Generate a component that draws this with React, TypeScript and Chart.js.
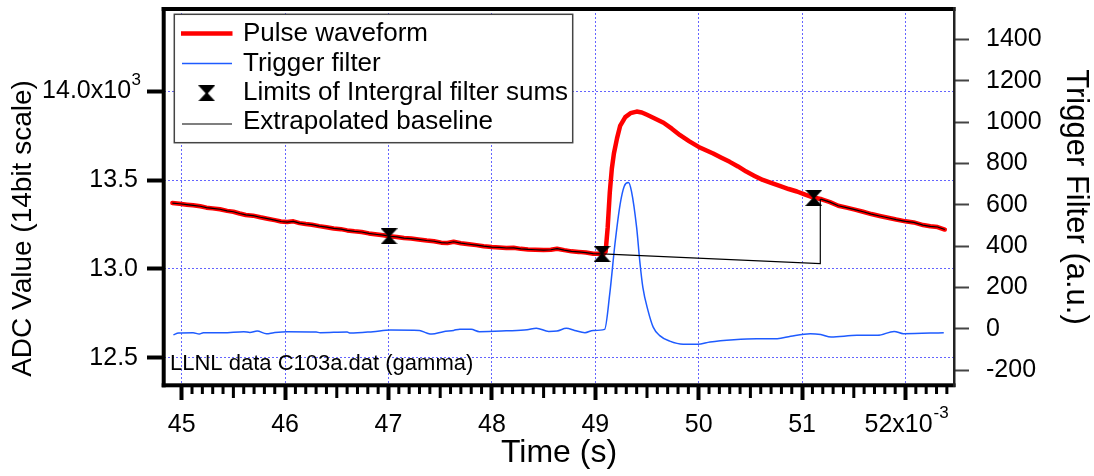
import React, { useEffect, useRef } from "react";
import { Chart, registerables } from "chart.js";

Chart.register(...registerables);

const FONT = "'Liberation Sans', Arial, Helvetica, sans-serif";

// ---------- axis ticks ----------
const X_TICKS = [45, 46, 47, 48, 49, 50, 51, 52];
const X_TICK_LABELS = ["45", "46", "47", "48", "49", "50", "51", "52x10  "];
const ADC_TICKS = [12500, 13000, 13500, 14000];
const ADC_TICK_LABELS = ["12.5", "13.0", "13.5", "14.0x10 "];
const TRIG_TICKS = [-200, 0, 200, 400, 600, 800, 1000, 1200, 1400];
// exponent superscripts attached to a tick label
const SUPERSCRIPTS = [
  { axis: "y", value: 14000, base: "14.0x10", text: "3" },
  { axis: "x", value: 52, base: "52x10", text: "-3" },
];

// ---------- texts ----------
const SERIES_NAMES = [
  "Pulse waveform",
  "Trigger filter",
  "Limits of Intergral filter sums",
  "Extrapolated baseline",
];
const X_TITLE = "Time (s)";
const LEFT_TITLE = "ADC Value (14bit scale)";
const RIGHT_TITLE = "Trigger Filter (a.u.)";
const NOTE = "LLNL data C103a.dat (gamma)";

// ---------- data (time in ms, ADC counts) ----------
const PULSE_T = [
  44.91, 44.98, 45.05, 45.11, 45.18, 45.24, 45.3, 45.37, 45.44, 45.5, 45.56, 45.62, 45.69, 45.76,
  45.83, 45.9, 45.96, 46.02, 46.08, 46.14, 46.2, 46.26, 46.33, 46.4, 46.47, 46.54, 46.6, 46.67,
  46.74, 46.81, 46.89, 46.95, 47.01, 47.08, 47.15, 47.22, 47.29, 47.37, 47.44, 47.51, 47.57, 47.63,
  47.7, 47.78, 47.85, 47.92, 48.0, 48.07, 48.14, 48.21, 48.28, 48.35, 48.42, 48.5, 48.57, 48.63,
  48.7, 48.77, 48.84, 48.91, 48.98, 49.04, 49.08,
  49.1, 49.12, 49.14, 49.16, 49.18, 49.21, 49.24, 49.29, 49.34, 49.4, 49.45, 49.5, 49.58, 49.66,
  49.74, 49.82, 49.91, 50.0, 50.07, 50.14, 50.22, 50.3, 50.38, 50.46, 50.54, 50.62, 50.7, 50.79,
  50.87, 50.95, 51.03, 51.11, 51.19, 51.27, 51.35, 51.43, 51.51, 51.59, 51.67, 51.75, 51.83, 51.91,
  52.0, 52.08, 52.17, 52.24, 52.31, 52.38,
];
const PULSE_V = [
  13371, 13367, 13362, 13358, 13353, 13345, 13341, 13336, 13327, 13322, 13312, 13304, 13300, 13291,
  13283, 13275, 13267, 13264, 13268, 13258, 13253, 13249, 13241, 13235, 13228, 13224, 13217, 13212,
  13208, 13200, 13194, 13190, 13184, 13180, 13174, 13171, 13166, 13160, 13156, 13148, 13146, 13153,
  13145, 13139, 13134, 13128, 13123, 13121, 13118, 13119, 13113, 13110, 13108, 13106, 13108, 13114,
  13106, 13099, 13096, 13092, 13086, 13085, 13083,
  13098, 13235, 13430, 13565, 13650, 13735, 13805, 13855, 13877, 13886, 13881, 13868, 13846, 13823,
  13790, 13753, 13718, 13687, 13668, 13650, 13626, 13603, 13577, 13548, 13524, 13501, 13484, 13466,
  13450, 13436, 13418, 13402, 13392, 13376, 13356, 13345, 13334, 13322, 13309, 13298, 13288, 13278,
  13268, 13262, 13247, 13240, 13236, 13222,
];

const TRIG_T = [
  44.92, 44.97, 45.11, 45.17, 45.21, 45.4, 45.6, 45.66, 45.73, 45.82, 45.89, 46.02, 46.3, 46.34,
  46.6, 46.63, 46.85, 47.02, 47.3, 47.37, 47.42, 47.53, 47.63, 47.69, 47.8, 47.88, 48.14, 48.34,
  48.43, 48.55, 48.63, 48.72, 48.8, 48.9, 48.98, 49.09, 49.14, 49.19, 49.24, 49.28, 49.32, 49.35,
  49.4, 49.43, 49.46, 49.51, 49.56, 49.62, 49.72, 49.85, 49.99, 50.11, 50.34, 50.56, 50.76, 50.89,
  51.08, 51.18, 51.28, 51.53, 51.73, 51.89, 51.98, 52.37,
];
const TRIG_V = [
  -29, -21, -19, -26, -19, -19, -14, -18, -11, -24, -19, -14, -16, -19,
  -16, -21, -14, -6, -8, -21, -26, -14, -8, -2, -3, -14, -10, -5,
  3, -13, -11, 2, -8, -19, -8, -3, 170, 410, 602, 690, 708, 665,
  489, 328, 200, 88, 8, -32, -60, -75, -75, -64, -53, -48, -48, -36,
  -24, -28, -40, -32, -32, -13, -24, -19,
];

const LIMIT_T = [47.005, 49.065, 51.113];
const LIMIT_V = [13184, 13085, 13400];

const EXTRAP_T = [49.065, 51.176, 51.176];
const EXTRAP_V = [13085, 13030, 13391];

// ---------- styles ----------
const RED = "#ff0000";
const BLUE = "#1e5bff";
const GRID = "#6464ff";

function makeMarker(): HTMLCanvasElement {
  const c = document.createElement("canvas");
  c.width = 17;
  c.height = 16;
  const m = c.getContext("2d")!;
  m.fillStyle = "#000";
  m.beginPath();
  m.moveTo(0, 0);
  m.lineTo(17, 0);
  m.lineTo(9.6, 8);
  m.lineTo(17, 16);
  m.lineTo(0, 16);
  m.lineTo(7.4, 8);
  m.closePath();
  m.fill();
  return c;
}

export default function App() {
  const ref = useRef<HTMLCanvasElement>(null);

  useEffect(() => {
    const canvas = ref.current;
    if (!canvas) return;
    const marker = makeMarker();

    const pulse = PULSE_T.map((t, i) => ({ x: t, y: PULSE_V[i] }));
    const trig = TRIG_T.map((t, i) => ({ x: t, y: TRIG_V[i] }));
    const limits = LIMIT_T.map((t, i) => ({ x: t, y: LIMIT_V[i] }));
    const extrap = EXTRAP_T.map((t, i) => ({ x: t, y: EXTRAP_V[i] }));
    const baseline = [
      ...pulse.filter((p) => p.x < EXTRAP_T[0]),
      ...extrap,
      ...pulse.filter((p) => p.x > EXTRAP_T[EXTRAP_T.length - 1]),
    ];

    const overlay = {
      id: "overlay",
      afterDraw(chart: any) {
        const { ctx, chartArea: a, scales } = chart;
        const xs = scales.x;
        ctx.save();
        // minor x ticks
        ctx.fillStyle = "#000";
        for (let k = 451; k <= 524; k++) {
          if (k % 10 === 0) continue;
          const px = xs.getPixelForValue(k / 10);
          const len = k % 10 === 5 ? 13 : 9;
          ctx.fillRect(px - 1.5, a.bottom, 3, len);
        }
        // frame
        ctx.fillRect(a.left - 2.3, a.top - 2, 4, a.bottom - a.top + 4.3);
        ctx.fillRect(a.left - 2.3, a.top - 2, a.right - a.left + 3.8, 4);
        ctx.fillRect(a.left - 2.3, a.bottom - 1.7, a.right - a.left + 3.8, 4);
        ctx.fillStyle = "#222";
        ctx.fillRect(a.right - 1, a.top - 2, 2.5, a.bottom - a.top + 4);

        // exponent superscripts on tick labels
        ctx.fillStyle = "#000";
        ctx.textBaseline = "alphabetic";
        ctx.textAlign = "left";
        SUPERSCRIPTS.forEach((s) => {
          ctx.font = `25px ${FONT}`;
          const baseW = ctx.measureText(s.base).width;
          let sx: number, sy: number;
          if (s.axis === "y") {
            const full = ADC_TICK_LABELS[ADC_TICKS.indexOf(s.value)];
            const right = a.left - 17 - 9;
            sx = right - ctx.measureText(full).width + baseW + 0.5;
            sy = scales.y.getPixelForValue(s.value) - 6;
          } else {
            const full = X_TICK_LABELS[X_TICKS.indexOf(s.value)];
            const left = xs.getPixelForValue(s.value) - ctx.measureText(full).width / 2;
            sx = left + baseW + 1;
            sy = a.bottom + 15 + 10 + 15 - 7;
          }
          ctx.font = `17px ${FONT}`;
          ctx.fillText(s.text, sx, sy);
        });

        // annotation
        ctx.fillStyle = "#000";
        ctx.font = `22px ${FONT}`;
        ctx.textAlign = "left";
        ctx.textBaseline = "middle";
        ctx.fillText(NOTE, 170, 364);

        // legend
        const lx = 174.3, ly = 14.3, lw = 398.4, lh = 128.4;
        ctx.fillStyle = "#fff";
        ctx.fillRect(lx, ly, lw, lh);
        ctx.strokeStyle = "#444";
        ctx.lineWidth = 1.5;
        ctx.strokeRect(lx, ly, lw, lh);
        const rows = [34, 63.5, 92.5, 122];
        ctx.lineCap = "butt";
        ctx.strokeStyle = RED;
        ctx.lineWidth = 4.5;
        ctx.beginPath();
        ctx.moveTo(181, 33.5);
        ctx.lineTo(232.5, 33.5);
        ctx.stroke();
        ctx.strokeStyle = BLUE;
        ctx.lineWidth = 1.5;
        ctx.beginPath();
        ctx.moveTo(182, 63.5);
        ctx.lineTo(232, 63.5);
        ctx.stroke();
        ctx.drawImage(marker, 206.7 - 8.5, 93.3 - 8, 17, 16);
        ctx.strokeStyle = "#000";
        ctx.lineWidth = 1.2;
        ctx.beginPath();
        ctx.moveTo(182, 124);
        ctx.lineTo(232, 124);
        ctx.stroke();
        ctx.fillStyle = "#000";
        ctx.font = `26px ${FONT}`;
        ctx.textBaseline = "middle";
        ctx.textAlign = "left";
        SERIES_NAMES.forEach((n, i) => ctx.fillText(n, 243, rows[i]));

        // left axis title
        ctx.save();
        ctx.translate(23.6, 228.5);
        ctx.rotate(-Math.PI / 2);
        ctx.font = `28px ${FONT}`;
        ctx.textAlign = "center";
        ctx.textBaseline = "middle";
        ctx.fillText(LEFT_TITLE, 0, 0);
        ctx.restore();

        ctx.restore();
      },
    };

    const tickFont = { family: FONT, size: 25 };
    const noPadV = (s: any) => {
      s.paddingTop = 0;
      s.paddingBottom = 0;
    };

    const chart = new Chart(canvas, {
      type: "line",
      data: {
        datasets: [
          {
            label: SERIES_NAMES[2],
            data: limits,
            yAxisID: "y",
            showLine: false,
            pointStyle: marker as any,
            pointRadius: 8,
            order: 0,
          },
          {
            label: SERIES_NAMES[3],
            data: baseline,
            yAxisID: "y",
            borderColor: "#000",
            borderWidth: 1.2,
            pointRadius: 0,
            tension: 0,
            order: 1,
          },
          {
            label: SERIES_NAMES[1],
            data: trig,
            yAxisID: "y2",
            borderColor: BLUE,
            borderWidth: 1.5,
            pointRadius: 0,
            cubicInterpolationMode: "monotone",
            order: 2,
          },
          {
            label: SERIES_NAMES[0],
            data: pulse,
            yAxisID: "y",
            borderColor: RED,
            borderWidth: 4.5,
            pointRadius: 0,
            tension: 0,
            borderJoinStyle: "round",
            borderCapStyle: "round",
            order: 3,
          },
        ] as any,
      },
      options: {
        animation: false,
        responsive: false,
        events: [],
        layout: { padding: { top: 6, left: 0, right: 0, bottom: 0 } },
        plugins: {
          legend: { display: false },
          tooltip: { enabled: false },
          title: { display: false },
        },
        scales: {
          x: {
            type: "linear",
            position: "bottom",
            min: 44.829,
            max: 52.469,
            bounds: "data",
            afterBuildTicks: (s: any) => {
              s.ticks = X_TICKS.map((v) => ({ value: v }));
            },
            afterFit: (s: any) => {
              s.height = 91;
              s.paddingLeft = 0;
              s.paddingRight = 0;
            },
            grid: {
              display: true,
              drawOnChartArea: true,
              color: GRID,
              lineWidth: 1,
              drawTicks: true,
              tickLength: 15,
              tickWidth: 4,
              tickColor: "#000",
            },
            border: { display: false, dash: [2, 2] },
            ticks: {
              autoSkip: false,
              maxRotation: 0,
              minRotation: 0,
              padding: 10,
              color: "#000",
              font: tickFont,
              callback: (v: any) => X_TICK_LABELS[X_TICKS.indexOf(Number(v))] ?? "",
            },
            title: {
              display: true,
              text: X_TITLE,
              color: "#000",
              font: { family: FONT, size: 32 },
              padding: { top: 0, bottom: 4 },
            },
          },
          y: {
            type: "linear",
            position: "left",
            min: 12346.4,
            max: 14463.7,
            bounds: "data",
            afterBuildTicks: (s: any) => {
              s.ticks = ADC_TICKS.map((v) => ({ value: v }));
            },
            afterFit: (s: any) => {
              s.width = 164;
              noPadV(s);
            },
            grid: {
              display: true,
              drawOnChartArea: true,
              color: GRID,
              lineWidth: 1,
              drawTicks: true,
              tickLength: 17,
              tickWidth: 4,
              tickColor: "#000",
            },
            border: { display: false, dash: [2, 2] },
            ticks: {
              padding: 9,
              color: "#000",
              font: tickFont,
              callback: (v: any) => ADC_TICK_LABELS[ADC_TICKS.indexOf(Number(v))] ?? "",
            },
          },
          y2: {
            type: "linear",
            position: "right",
            min: -272.2,
            max: 1547.3,
            bounds: "data",
            afterBuildTicks: (s: any) => {
              s.ticks = TRIG_TICKS.map((v) => ({ value: v }));
            },
            afterFit: (s: any) => {
              s.width = 140;
              noPadV(s);
            },
            grid: {
              display: true,
              drawOnChartArea: false,
              drawTicks: true,
              tickLength: 15,
              tickWidth: 2,
              tickColor: "#444",
            },
            border: { display: false },
            ticks: {
              padding: 17,
              color: "#000",
              font: tickFont,
              callback: (v: any) => String(v),
            },
            title: {
              display: true,
              text: RIGHT_TITLE,
              color: "#000",
              font: { family: FONT, size: 31 },
              padding: { top: 0, bottom: 0 },
            },
          },
        },
      } as any,
      plugins: [overlay],
    });

    return () => chart.destroy();
  }, []);

  return (
    <div
      style={{
        position: "absolute",
        left: 0,
        top: 0,
        width: 1094,
        height: 476,
        background: "#fff",
        overflow: "hidden",
      }}
    >
      <canvas ref={ref} width={1094} height={476} style={{ display: "block" }} />
    </div>
  );
}
